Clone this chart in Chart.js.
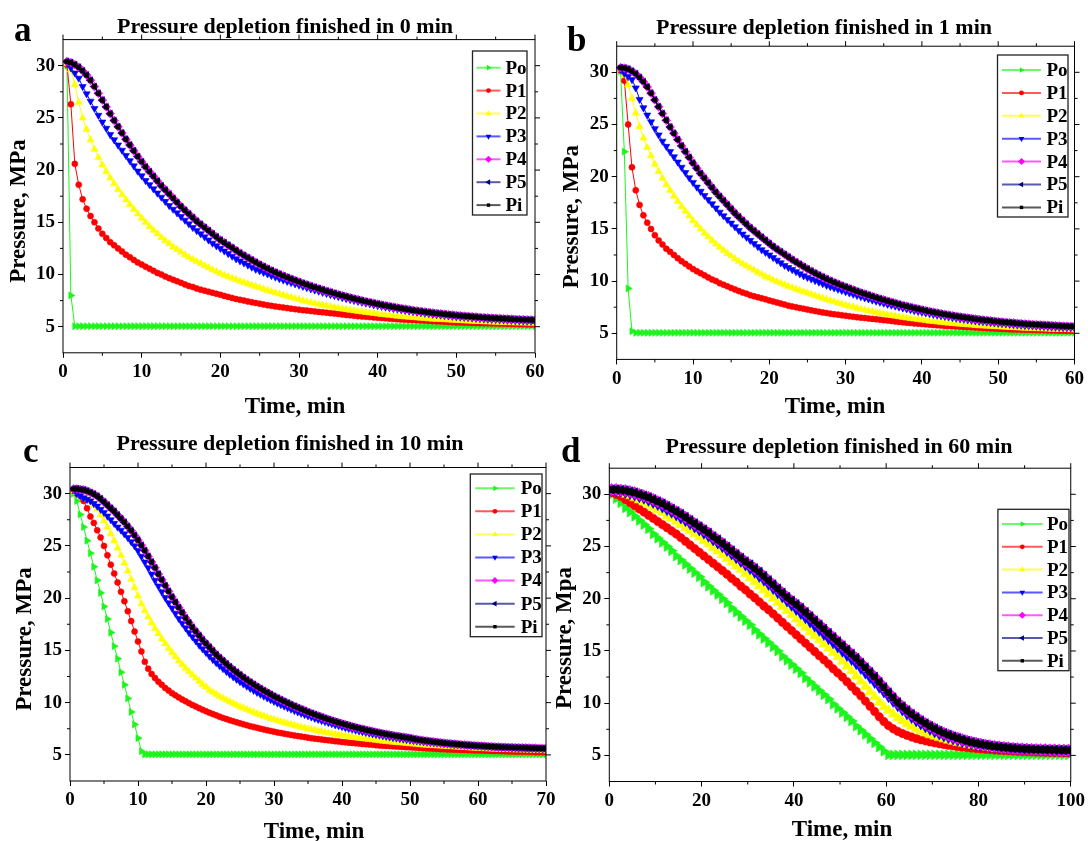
<!DOCTYPE html>
<html>
<head>
<meta charset="utf-8">
<script src="https://cdn.jsdelivr.net/npm/chart.js@4.4.0/dist/chart.umd.min.js"></script>
<style>
  html, body { margin: 0; padding: 0; background: #fff; }
  #wrap { position: relative; width: 1088px; height: 841px; overflow: hidden; }
  #wrap canvas { position: absolute; left: 0; top: 0; }
</style>
</head>
<body>
<div id="wrap">
  <canvas id="ca" width="1088" height="841"></canvas>
  <canvas id="cb" width="1088" height="841"></canvas>
  <canvas id="cc" width="1088" height="841"></canvas>
  <canvas id="cd" width="1088" height="841"></canvas>
</div>
<script>
// sampling times (min)
function halfSteps(n) { return Array.from({ length: n }, (_, i) => (i + 1) * 0.5); }
const timeA = halfSteps(120);   // 0.5 ... 60
const timeB = halfSteps(120);   // 0.5 ... 60
const timeC = halfSteps(140);   // 0.5 ... 70
const timeD = Array.from({ length: 100 }, (_, i) => i + 0.5); // 0.5 ... 99.5

const seriesNames = ["Po", "P1", "P2", "P3", "P4", "P5", "Pi"];

// ---- panel a : depletion finished in 0 min ----
const aPo = [30.0, 8.0, 5.05, 5.05, 5.05, 5.05, 5.05, 5.05, 5.05, 5.05,
  5.05, 5.05, 5.05, 5.05, 5.05, 5.05, 5.05, 5.05, 5.05, 5.05,
  5.05, 5.05, 5.05, 5.05, 5.05, 5.05, 5.05, 5.05, 5.05, 5.05,
  5.05, 5.05, 5.05, 5.05, 5.05, 5.05, 5.05, 5.05, 5.05, 5.05,
  5.05, 5.05, 5.05, 5.05, 5.05, 5.05, 5.05, 5.05, 5.05, 5.05,
  5.05, 5.05, 5.05, 5.05, 5.05, 5.05, 5.05, 5.05, 5.05, 5.05,
  5.05, 5.05, 5.05, 5.05, 5.05, 5.05, 5.05, 5.05, 5.05, 5.05,
  5.05, 5.05, 5.05, 5.05, 5.05, 5.05, 5.05, 5.05, 5.05, 5.05,
  5.05, 5.05, 5.05, 5.05, 5.05, 5.05, 5.05, 5.05, 5.05, 5.05,
  5.05, 5.05, 5.05, 5.05, 5.05, 5.05, 5.05, 5.05, 5.05, 5.05,
  5.05, 5.05, 5.05, 5.05, 5.05, 5.05, 5.05, 5.05, 5.05, 5.05,
  5.05, 5.05, 5.05, 5.05, 5.05, 5.05, 5.05, 5.05, 5.05, 5.05];
const aP1 = [30.1, 26.3, 20.6, 18.6, 17.2, 16.3, 15.6, 15.0, 14.4, 13.9,
  13.5, 13.1, 12.8, 12.5, 12.2, 11.9, 11.65, 11.4, 11.15, 10.95,
  10.75, 10.55, 10.35, 10.15, 10.0, 9.8, 9.65, 9.5, 9.35, 9.2,
  9.05, 8.9, 8.8, 8.65, 8.55, 8.45, 8.35, 8.25, 8.15, 8.05,
  7.95, 7.85, 7.75, 7.65, 7.57, 7.5, 7.42, 7.35, 7.27, 7.2,
  7.13, 7.06, 7.0, 6.94, 6.88, 6.83, 6.78, 6.73, 6.68, 6.63,
  6.58, 6.54, 6.5, 6.46, 6.42, 6.38, 6.34, 6.3, 6.26, 6.22,
  6.17, 6.13, 6.09, 6.05, 6.01, 5.98, 5.95, 5.92, 5.89, 5.86,
  5.83, 5.8, 5.77, 5.74, 5.71, 5.69, 5.67, 5.65, 5.63, 5.61,
  5.59, 5.57, 5.55, 5.53, 5.51, 5.49, 5.47, 5.45, 5.43, 5.41,
  5.4, 5.38, 5.37, 5.36, 5.35, 5.34, 5.33, 5.32, 5.31, 5.3,
  5.29, 5.28, 5.27, 5.26, 5.25, 5.24, 5.23, 5.22, 5.21, 5.2];
const aP2 = [30.2, 29.6, 28.2, 26.5, 25.0, 23.9, 22.9, 22.0, 21.2, 20.5,
  19.85, 19.25, 18.7, 18.15, 17.65, 17.15, 16.7, 16.25, 15.8, 15.4,
  15.0, 14.6, 14.25, 13.9, 13.55, 13.25, 12.95, 12.65, 12.4, 12.15,
  11.9, 11.65, 11.45, 11.25, 11.05, 10.85, 10.65, 10.45, 10.28, 10.1,
  9.95, 9.8, 9.65, 9.5, 9.36, 9.23, 9.1, 8.98, 8.86, 8.74,
  8.6, 8.48, 8.36, 8.24, 8.13, 8.02, 7.91, 7.8, 7.7, 7.6,
  7.5, 7.41, 7.32, 7.23, 7.15, 7.07, 6.99, 6.92, 6.85, 6.78,
  6.71, 6.65, 6.59, 6.53, 6.47, 6.42, 6.37, 6.32, 6.27, 6.22,
  6.17, 6.13, 6.09, 6.05, 6.01, 5.97, 5.94, 5.91, 5.88, 5.85,
  5.82, 5.79, 5.76, 5.73, 5.71, 5.69, 5.67, 5.65, 5.63, 5.61,
  5.59, 5.57, 5.55, 5.53, 5.51, 5.5, 5.48, 5.47, 5.45, 5.44,
  5.43, 5.41, 5.4, 5.39, 5.38, 5.37, 5.36, 5.35, 5.34, 5.33];
const aP3 = [30.3, 29.8, 29.3, 28.8, 28.0, 27.3, 26.6, 25.9, 25.25, 24.6,
  24.0, 23.4, 22.9, 22.4, 21.9, 21.4, 20.9, 20.4, 19.9, 19.45,
  19.0, 18.6, 18.2, 17.8, 17.4, 17.0, 16.6, 16.25, 15.9, 15.55,
  15.2, 14.85, 14.5, 14.2, 13.9, 13.6, 13.3, 13.0, 12.75, 12.5,
  12.25, 12.0, 11.75, 11.5, 11.3, 11.1, 10.9, 10.7, 10.5, 10.35,
  10.2, 10.05, 9.9, 9.75, 9.6, 9.47, 9.34, 9.22, 9.1, 8.98,
  8.86, 8.74, 8.62, 8.51, 8.4, 8.29, 8.18, 8.08, 7.98, 7.88,
  7.78, 7.69, 7.6, 7.51, 7.42, 7.34, 7.26, 7.18, 7.1, 7.02,
  6.95, 6.88, 6.81, 6.74, 6.68, 6.62, 6.56, 6.5, 6.44, 6.39,
  6.34, 6.29, 6.24, 6.19, 6.15, 6.11, 6.07, 6.03, 5.99, 5.95,
  5.92, 5.89, 5.86, 5.83, 5.8, 5.77, 5.74, 5.72, 5.7, 5.68,
  5.66, 5.64, 5.62, 5.6, 5.58, 5.56, 5.55, 5.53, 5.52, 5.5];
// P4, P5 and Pi lie on top of each other in the figure
const aP4P5Pi = [30.4, 30.3, 30.1, 29.85, 29.5, 29.1, 28.6, 28.0, 27.35, 26.7,
  26.05, 25.4, 24.75, 24.15, 23.55, 22.95, 22.4, 21.85, 21.3, 20.8,
  20.3, 19.85, 19.4, 18.95, 18.5, 18.1, 17.7, 17.3, 16.9, 16.5,
  16.15, 15.8, 15.45, 15.1, 14.8, 14.5, 14.2, 13.9, 13.6, 13.3,
  13.05, 12.8, 12.55, 12.3, 12.05, 11.82, 11.6, 11.38, 11.16, 10.95,
  10.75, 10.56, 10.38, 10.2, 10.03, 9.87, 9.72, 9.57, 9.43, 9.29,
  9.15, 9.02, 8.89, 8.77, 8.65, 8.53, 8.41, 8.3, 8.19, 8.08,
  7.98, 7.88, 7.78, 7.68, 7.59, 7.5, 7.41, 7.33, 7.25, 7.17,
  7.09, 7.02, 6.95, 6.88, 6.81, 6.75, 6.69, 6.63, 6.57, 6.52,
  6.47, 6.42, 6.37, 6.32, 6.28, 6.24, 6.2, 6.16, 6.12, 6.08,
  6.05, 6.02, 5.99, 5.96, 5.93, 5.9, 5.87, 5.85, 5.83, 5.81,
  5.79, 5.77, 5.75, 5.73, 5.71, 5.69, 5.68, 5.66, 5.65, 5.63];

// ---- panel b : depletion finished in 1 min ----
const bPo = [30.1, 22.4, 9.3, 5.2, 5.05, 5.05, 5.05, 5.05, 5.05, 5.05,
  5.05, 5.05, 5.05, 5.05, 5.05, 5.05, 5.05, 5.05, 5.05, 5.05,
  5.05, 5.05, 5.05, 5.05, 5.05, 5.05, 5.05, 5.05, 5.05, 5.05,
  5.05, 5.05, 5.05, 5.05, 5.05, 5.05, 5.05, 5.05, 5.05, 5.05,
  5.05, 5.05, 5.05, 5.05, 5.05, 5.05, 5.05, 5.05, 5.05, 5.05,
  5.05, 5.05, 5.05, 5.05, 5.05, 5.05, 5.05, 5.05, 5.05, 5.05,
  5.05, 5.05, 5.05, 5.05, 5.05, 5.05, 5.05, 5.05, 5.05, 5.05,
  5.05, 5.05, 5.05, 5.05, 5.05, 5.05, 5.05, 5.05, 5.05, 5.05,
  5.05, 5.05, 5.05, 5.05, 5.05, 5.05, 5.05, 5.05, 5.05, 5.05,
  5.05, 5.05, 5.05, 5.05, 5.05, 5.05, 5.05, 5.05, 5.05, 5.05,
  5.05, 5.05, 5.05, 5.05, 5.05, 5.05, 5.05, 5.05, 5.05, 5.05,
  5.05, 5.05, 5.05, 5.05, 5.05, 5.05, 5.05, 5.05, 5.05, 5.05];
const bP1 = [30.2, 29.2, 25.0, 20.9, 18.7, 17.3, 16.3, 15.6, 15.0, 14.4,
  13.9, 13.5, 13.1, 12.8, 12.5, 12.2, 11.9, 11.65, 11.4, 11.15,
  10.95, 10.75, 10.55, 10.35, 10.15, 10.0, 9.8, 9.65, 9.5, 9.35,
  9.2, 9.05, 8.9, 8.8, 8.65, 8.55, 8.45, 8.35, 8.25, 8.15,
  8.05, 7.95, 7.85, 7.75, 7.65, 7.57, 7.5, 7.42, 7.35, 7.27,
  7.2, 7.13, 7.06, 7.0, 6.94, 6.88, 6.83, 6.78, 6.73, 6.68,
  6.63, 6.58, 6.54, 6.5, 6.46, 6.42, 6.38, 6.34, 6.3, 6.26,
  6.22, 6.17, 6.13, 6.09, 6.05, 6.01, 5.98, 5.95, 5.92, 5.89,
  5.86, 5.83, 5.8, 5.77, 5.74, 5.71, 5.69, 5.67, 5.65, 5.63,
  5.61, 5.59, 5.57, 5.55, 5.53, 5.51, 5.49, 5.47, 5.45, 5.43,
  5.41, 5.4, 5.38, 5.37, 5.36, 5.35, 5.34, 5.33, 5.32, 5.31,
  5.3, 5.29, 5.28, 5.27, 5.26, 5.25, 5.24, 5.23, 5.22, 5.21];
const bP2 = [30.3, 29.7, 28.8, 27.5, 26.1, 24.8, 23.7, 22.8, 22.0, 21.2,
  20.5, 19.85, 19.25, 18.7, 18.15, 17.65, 17.15, 16.7, 16.25, 15.8,
  15.4, 15.0, 14.6, 14.25, 13.9, 13.55, 13.25, 12.95, 12.65, 12.4,
  12.15, 11.9, 11.65, 11.45, 11.25, 11.05, 10.85, 10.65, 10.45, 10.28,
  10.1, 9.95, 9.8, 9.65, 9.5, 9.36, 9.23, 9.1, 8.98, 8.86,
  8.74, 8.6, 8.48, 8.36, 8.24, 8.13, 8.02, 7.91, 7.8, 7.7,
  7.6, 7.5, 7.41, 7.32, 7.23, 7.15, 7.07, 6.99, 6.92, 6.85,
  6.78, 6.71, 6.65, 6.59, 6.53, 6.47, 6.42, 6.37, 6.32, 6.27,
  6.22, 6.17, 6.13, 6.09, 6.05, 6.01, 5.97, 5.94, 5.91, 5.88,
  5.85, 5.82, 5.79, 5.76, 5.73, 5.71, 5.69, 5.67, 5.65, 5.63,
  5.61, 5.59, 5.57, 5.55, 5.53, 5.51, 5.5, 5.48, 5.47, 5.45,
  5.44, 5.43, 5.41, 5.4, 5.39, 5.38, 5.37, 5.36, 5.35, 5.34];
const bP3 = [30.3, 29.9, 29.6, 29.3, 28.5, 27.4, 26.6, 25.9, 25.25, 24.6,
  24.0, 23.4, 22.9, 22.4, 21.9, 21.4, 20.9, 20.4, 19.9, 19.45,
  19.0, 18.6, 18.2, 17.8, 17.4, 17.0, 16.6, 16.25, 15.9, 15.55,
  15.2, 14.85, 14.5, 14.2, 13.9, 13.6, 13.3, 13.0, 12.75, 12.5,
  12.25, 12.0, 11.75, 11.5, 11.3, 11.1, 10.9, 10.7, 10.5, 10.35,
  10.2, 10.05, 9.9, 9.75, 9.6, 9.47, 9.34, 9.22, 9.1, 8.98,
  8.86, 8.74, 8.62, 8.51, 8.4, 8.29, 8.18, 8.08, 7.98, 7.88,
  7.78, 7.69, 7.6, 7.51, 7.42, 7.34, 7.26, 7.18, 7.1, 7.02,
  6.95, 6.88, 6.81, 6.74, 6.68, 6.62, 6.56, 6.5, 6.44, 6.39,
  6.34, 6.29, 6.24, 6.19, 6.15, 6.11, 6.07, 6.03, 5.99, 5.95,
  5.92, 5.89, 5.86, 5.83, 5.8, 5.77, 5.74, 5.72, 5.7, 5.68,
  5.66, 5.64, 5.62, 5.6, 5.58, 5.56, 5.55, 5.53, 5.52, 5.5];
const bP4P5Pi = [30.45, 30.4, 30.3, 30.1, 29.85, 29.5, 29.1, 28.6, 28.0, 27.35,
  26.7, 26.05, 25.4, 24.75, 24.15, 23.55, 22.95, 22.4, 21.85, 21.3,
  20.8, 20.3, 19.85, 19.4, 18.95, 18.5, 18.1, 17.7, 17.3, 16.9,
  16.5, 16.15, 15.8, 15.45, 15.1, 14.8, 14.5, 14.2, 13.9, 13.6,
  13.3, 13.05, 12.8, 12.55, 12.3, 12.05, 11.82, 11.6, 11.38, 11.16,
  10.95, 10.75, 10.56, 10.38, 10.2, 10.03, 9.87, 9.72, 9.57, 9.43,
  9.29, 9.15, 9.02, 8.89, 8.77, 8.65, 8.53, 8.41, 8.3, 8.19,
  8.08, 7.98, 7.88, 7.78, 7.68, 7.59, 7.5, 7.41, 7.33, 7.25,
  7.17, 7.09, 7.02, 6.95, 6.88, 6.81, 6.75, 6.69, 6.63, 6.57,
  6.52, 6.47, 6.42, 6.37, 6.32, 6.28, 6.24, 6.2, 6.16, 6.12,
  6.08, 6.05, 6.02, 5.99, 5.96, 5.93, 5.9, 5.87, 5.85, 5.83,
  5.81, 5.79, 5.77, 5.75, 5.73, 5.71, 5.69, 5.68, 5.66, 5.65];

// ---- panel c : depletion finished in 10 min ----
const cPo = [30.0, 29.3, 28.0, 26.8, 25.5, 24.3, 23.0, 21.7, 20.5, 19.2,
  18.0, 16.7, 15.4, 14.2, 12.9, 11.7, 10.4, 9.1, 7.9, 6.6,
  5.35, 5.05, 5.05, 5.05, 5.05, 5.05, 5.05, 5.05, 5.05, 5.05,
  5.05, 5.05, 5.05, 5.05, 5.05, 5.05, 5.05, 5.05, 5.05, 5.05,
  5.05, 5.05, 5.05, 5.05, 5.05, 5.05, 5.05, 5.05, 5.05, 5.05,
  5.05, 5.05, 5.05, 5.05, 5.05, 5.05, 5.05, 5.05, 5.05, 5.05,
  5.05, 5.05, 5.05, 5.05, 5.05, 5.05, 5.05, 5.05, 5.05, 5.05,
  5.05, 5.05, 5.05, 5.05, 5.05, 5.05, 5.05, 5.05, 5.05, 5.05,
  5.05, 5.05, 5.05, 5.05, 5.05, 5.05, 5.05, 5.05, 5.05, 5.05,
  5.05, 5.05, 5.05, 5.05, 5.05, 5.05, 5.05, 5.05, 5.05, 5.05,
  5.05, 5.05, 5.05, 5.05, 5.05, 5.05, 5.05, 5.05, 5.05, 5.05,
  5.05, 5.05, 5.05, 5.05, 5.05, 5.05, 5.05, 5.05, 5.05, 5.05,
  5.05, 5.05, 5.05, 5.05, 5.05, 5.05, 5.05, 5.05, 5.05, 5.05,
  5.05, 5.05, 5.05, 5.05, 5.05, 5.05, 5.05, 5.05, 5.05, 5.05];
const cP1 = [30.3, 30.0, 29.8, 29.3, 28.6, 27.8, 27.2, 26.5, 25.8, 25.0,
  24.1, 23.2, 22.35, 21.5, 20.6, 19.7, 18.75, 17.8, 16.8, 15.85,
  14.9, 13.9, 13.25, 12.75, 12.35, 12.0, 11.7, 11.4, 11.15, 10.9,
  10.7, 10.5, 10.3, 10.12, 9.95, 9.78, 9.62, 9.47, 9.32, 9.18,
  9.04, 8.91, 8.78, 8.66, 8.54, 8.43, 8.32, 8.22, 8.12, 8.02,
  7.93, 7.84, 7.75, 7.67, 7.59, 7.51, 7.43, 7.36, 7.29, 7.22,
  7.15, 7.09, 7.03, 6.97, 6.91, 6.85, 6.8, 6.75, 6.7, 6.65,
  6.6, 6.55, 6.51, 6.47, 6.43, 6.39, 6.35, 6.31, 6.27, 6.23,
  6.2, 6.17, 6.14, 6.11, 6.08, 6.05, 6.02, 5.99, 5.96, 5.93,
  5.9, 5.88, 5.86, 5.84, 5.82, 5.8, 5.78, 5.76, 5.74, 5.72,
  5.7, 5.68, 5.66, 5.64, 5.62, 5.6, 5.58, 5.56, 5.55, 5.54,
  5.52, 5.51, 5.5, 5.48, 5.47, 5.46, 5.45, 5.44, 5.43, 5.42,
  5.41, 5.4, 5.39, 5.38, 5.37, 5.36, 5.35, 5.34, 5.33, 5.32,
  5.31, 5.3, 5.29, 5.29, 5.28, 5.27, 5.26, 5.26, 5.25, 5.25];
const cP2 = [30.3, 30.1, 29.9, 29.7, 29.5, 29.25, 28.9, 28.5, 27.95, 27.4,
  26.8, 26.15, 25.5, 24.8, 24.1, 23.35, 22.6, 21.8, 21.0, 20.2,
  19.45, 18.8, 18.2, 17.65, 17.1, 16.6, 16.1, 15.65, 15.2, 14.8,
  14.4, 14.0, 13.65, 13.3, 12.95, 12.65, 12.35, 12.05, 11.75, 11.5,
  11.2, 11.0, 10.8, 10.6, 10.42, 10.25, 10.08, 9.92, 9.77, 9.62,
  9.48, 9.34, 9.2, 9.07, 8.94, 8.82, 8.7, 8.59, 8.48, 8.38,
  8.28, 8.18, 8.09, 8.0, 7.91, 7.82, 7.74, 7.66, 7.58, 7.5,
  7.43, 7.36, 7.29, 7.22, 7.15, 7.09, 7.03, 6.97, 6.91, 6.85,
  6.8, 6.75, 6.7, 6.65, 6.6, 6.56, 6.52, 6.48, 6.44, 6.4,
  6.36, 6.32, 6.28, 6.25, 6.22, 6.19, 6.16, 6.13, 6.1, 6.07,
  6.04, 6.01, 5.98, 5.95, 5.93, 5.91, 5.89, 5.87, 5.85, 5.83,
  5.81, 5.79, 5.77, 5.75, 5.73, 5.71, 5.69, 5.67, 5.65, 5.63,
  5.61, 5.6, 5.58, 5.57, 5.55, 5.54, 5.53, 5.52, 5.51, 5.5,
  5.49, 5.48, 5.47, 5.46, 5.45, 5.44, 5.43, 5.42, 5.41, 5.4];
const cP3 = [30.35, 30.0, 29.8, 29.6, 29.45, 29.3, 29.05, 28.8, 28.5, 28.2,
  27.85, 27.5, 27.15, 26.8, 26.5, 26.15, 25.8, 25.4, 25.0, 24.55,
  24.0, 23.45, 22.9, 22.3, 21.7, 21.15, 20.6, 20.05, 19.55, 19.05,
  18.55, 18.05, 17.6, 17.15, 16.7, 16.3, 15.9, 15.5, 15.15, 14.8,
  14.45, 14.12, 13.82, 13.53, 13.25, 12.98, 12.72, 12.47, 12.23, 12.0,
  11.78, 11.57, 11.37, 11.17, 10.98, 10.8, 10.62, 10.45, 10.28, 10.12,
  9.96, 9.81, 9.66, 9.52, 9.38, 9.24, 9.11, 8.98, 8.86, 8.74,
  8.62, 8.5, 8.39, 8.28, 8.18, 8.08, 7.98, 7.88, 7.79, 7.7,
  7.61, 7.53, 7.45, 7.37, 7.29, 7.22, 7.15, 7.08, 7.01, 6.95,
  6.89, 6.83, 6.77, 6.71, 6.66, 6.61, 6.56, 6.51, 6.46, 6.41,
  6.37, 6.33, 6.29, 6.25, 6.21, 6.18, 6.15, 6.12, 6.09, 6.06,
  6.03, 6.0, 5.97, 5.95, 5.93, 5.91, 5.89, 5.87, 5.85, 5.83,
  5.81, 5.79, 5.77, 5.75, 5.73, 5.71, 5.7, 5.68, 5.67, 5.65,
  5.64, 5.62, 5.61, 5.6, 5.59, 5.58, 5.57, 5.56, 5.55, 5.54];
const cP4P5Pi = [30.45, 30.45, 30.4, 30.35, 30.25, 30.1, 29.95, 29.75, 29.5, 29.2,
  28.9, 28.6, 28.3, 27.95, 27.6, 27.25, 26.85, 26.45, 26.0, 25.55,
  25.05, 24.55, 24.0, 23.45, 22.9, 22.3, 21.75, 21.2, 20.65, 20.1,
  19.6, 19.1, 18.6, 18.1, 17.65, 17.2, 16.8, 16.4, 16.0, 15.65,
  15.3, 14.95, 14.6, 14.3, 14.0, 13.7, 13.42, 13.15, 12.9, 12.65,
  12.4, 12.17, 11.95, 11.74, 11.53, 11.33, 11.14, 10.96, 10.78, 10.6,
  10.43, 10.27, 10.11, 9.95, 9.8, 9.65, 9.51, 9.37, 9.23, 9.1,
  8.97, 8.85, 8.73, 8.61, 8.5, 8.39, 8.28, 8.18, 8.08, 7.98,
  7.89, 7.8, 7.71, 7.62, 7.54, 7.46, 7.38, 7.31, 7.24, 7.17,
  7.1, 7.04, 6.98, 6.92, 6.86, 6.8, 6.75, 6.7, 6.65, 6.6,
  6.52, 6.47, 6.42, 6.37, 6.33, 6.29, 6.25, 6.21, 6.17, 6.13,
  6.1, 6.07, 6.04, 6.01, 5.98, 5.95, 5.93, 5.91, 5.89, 5.87,
  5.85, 5.83, 5.81, 5.79, 5.77, 5.76, 5.74, 5.73, 5.72, 5.71,
  5.7, 5.69, 5.68, 5.67, 5.66, 5.65, 5.64, 5.63, 5.62, 5.61];

// ---- panel d : depletion finished in 60 min ----
const dPo = [30.0, 29.6, 29.2, 28.7, 28.3, 27.9, 27.5, 27.1, 26.7, 26.2,
  25.8, 25.4, 25.0, 24.6, 24.1, 23.7, 23.3, 22.9, 22.5, 22.1,
  21.6, 21.2, 20.8, 20.4, 20.0, 19.6, 19.1, 18.7, 18.3, 17.9,
  17.5, 17.0, 16.6, 16.2, 15.8, 15.4, 15.0, 14.5, 14.1, 13.7,
  13.3, 12.9, 12.4, 12.0, 11.6, 11.2, 10.8, 10.4, 9.9, 9.5,
  9.1, 8.7, 8.3, 7.8, 7.4, 7.0, 6.6, 6.2, 5.8, 5.4,
  5.05, 5.05, 5.05, 5.05, 5.05, 5.05, 5.05, 5.05, 5.05, 5.05,
  5.05, 5.05, 5.05, 5.05, 5.05, 5.05, 5.05, 5.05, 5.05, 5.05,
  5.05, 5.05, 5.05, 5.05, 5.05, 5.05, 5.05, 5.05, 5.05, 5.05,
  5.05, 5.05, 5.05, 5.05, 5.05, 5.05, 5.05, 5.05, 5.05, 5.05];
const dP1 = [30.2, 30.0, 29.8, 29.5, 29.2, 28.9, 28.6, 28.3, 28.0, 27.7,
  27.4, 27.1, 26.8, 26.5, 26.2, 25.85, 25.5, 25.15, 24.8, 24.45,
  24.1, 23.75, 23.4, 23.05, 22.7, 22.35, 21.95, 21.6, 21.2, 20.85,
  20.45, 20.1, 19.7, 19.3, 18.95, 18.55, 18.15, 17.75, 17.35, 16.95,
  16.55, 16.15, 15.75, 15.35, 14.95, 14.55, 14.15, 13.75, 13.3, 12.9,
  12.5, 12.05, 11.6, 11.15, 10.7, 10.2, 9.7, 9.2, 8.7, 8.25,
  7.85, 7.55, 7.3, 7.1, 6.92, 6.76, 6.62, 6.5, 6.39, 6.29,
  6.2, 6.12, 6.04, 5.97, 5.91, 5.85, 5.8, 5.75, 5.7, 5.66,
  5.62, 5.58, 5.55, 5.52, 5.49, 5.46, 5.44, 5.42, 5.4, 5.38,
  5.36, 5.34, 5.33, 5.31, 5.3, 5.29, 5.28, 5.27, 5.26, 5.25];
const dP2 = [30.3, 30.25, 30.15, 30.0, 29.85, 29.65, 29.45, 29.25, 29.0, 28.75,
  28.5, 28.25, 27.95, 27.7, 27.4, 27.1, 26.8, 26.5, 26.2, 25.9,
  25.55, 25.25, 24.9, 24.55, 24.2, 23.85, 23.5, 23.15, 22.8, 22.4,
  22.0, 21.65, 21.25, 20.85, 20.45, 20.05, 19.65, 19.25, 18.85, 18.45,
  18.05, 17.65, 17.25, 16.85, 16.45, 16.05, 15.65, 15.25, 14.85, 14.45,
  14.0, 13.55, 13.1, 12.6, 12.1, 11.6, 11.1, 10.6, 10.1, 9.65,
  9.3, 8.95, 8.62, 8.31, 8.03, 7.77, 7.53, 7.32, 7.13, 6.96,
  6.83, 6.69, 6.56, 6.44, 6.33, 6.23, 6.14, 6.05, 5.97, 5.9,
  5.84, 5.78, 5.73, 5.68, 5.64, 5.6, 5.56, 5.53, 5.5, 5.47,
  5.45, 5.43, 5.41, 5.39, 5.37, 5.36, 5.35, 5.34, 5.33, 5.32];
const dP3 = [30.35, 30.3, 30.25, 30.15, 30.05, 29.9, 29.75, 29.6, 29.4, 29.2,
  29.0, 28.75, 28.5, 28.25, 28.0, 27.7, 27.45, 27.15, 26.85, 26.55,
  26.25, 25.95, 25.6, 25.3, 24.95, 24.6, 24.25, 23.9, 23.55, 23.2,
  22.85, 22.5, 22.1, 21.75, 21.35, 20.95, 20.55, 20.15, 19.75, 19.35,
  18.95, 18.55, 18.15, 17.75, 17.35, 16.95, 16.55, 16.15, 15.75, 15.35,
  14.95, 14.55, 14.15, 13.75, 13.3, 12.85, 12.4, 11.95, 11.5, 11.05,
  10.6, 10.15, 9.72, 9.32, 8.95, 8.6, 8.28, 7.98, 7.71, 7.46,
  7.23, 7.02, 6.84, 6.68, 6.54, 6.41, 6.29, 6.18, 6.08, 5.99,
  5.9, 5.84, 5.79, 5.74, 5.7, 5.66, 5.63, 5.6, 5.57, 5.55,
  5.53, 5.51, 5.49, 5.48, 5.47, 5.46, 5.45, 5.44, 5.43, 5.42];
const dP4P5Pi = [30.45, 30.45, 30.4, 30.35, 30.25, 30.15, 30.0, 29.85, 29.7, 29.5,
  29.3, 29.1, 28.85, 28.6, 28.35, 28.1, 27.8, 27.5, 27.2, 26.9,
  26.6, 26.3, 25.95, 25.65, 25.3, 24.95, 24.6, 24.25, 23.9, 23.55,
  23.25, 22.9, 22.55, 22.15, 21.75, 21.35, 20.95, 20.55, 20.15, 19.8,
  19.45, 19.1, 18.7, 18.3, 17.9, 17.5, 17.1, 16.7, 16.3, 15.9,
  15.5, 15.1, 14.7, 14.3, 13.85, 13.4, 12.95, 12.5, 12.0, 11.5,
  11.0, 10.52, 10.07, 9.67, 9.3, 8.95, 8.63, 8.33, 8.05, 7.79,
  7.55, 7.33, 7.13, 6.95, 6.79, 6.64, 6.5, 6.37, 6.26, 6.16,
  6.07, 5.99, 5.92, 5.86, 5.81, 5.76, 5.72, 5.68, 5.65, 5.62,
  5.6, 5.58, 5.56, 5.55, 5.54, 5.53, 5.52, 5.51, 5.5, 5.5];

const yTicks = [5, 10, 15, 20, 25, 30];

// ---- styling ----
const SERIF = "'Liberation Serif', 'Times New Roman', serif";
const looks = [
  { color: "#1cf51c", style: "triangle", rot: 90,  r: 4.1 },
  { color: "#ff0000", style: "circle",   rot: 0,   r: 3.0 },
  { color: "#ffff00", style: "triangle", rot: 0,   r: 4.1 },
  { color: "#0000ff", style: "triangle", rot: 180, r: 4.1 },
  { color: "#ff00ff", style: "rectRot",  rot: 0,   r: 4.4 },
  { color: "#000080", style: "triangle", rot: 270, r: 4.1 },
  { color: "#000000", style: "rect",     rot: 0,   r: 3.0 }
];

const panels = [
  { id: "ca", time: timeA, series: [aPo, aP1, aP2, aP3, aP4P5Pi, aP4P5Pi, aP4P5Pi],
    xMax: 60, xStep: 10, area: { l: 63, r: 535, t: 39.6, b: 352.8 }, markScale: 1,
    title: "Pressure depletion finished in 0 min", titleX: 285, titleY: 32.5,
    letter: "a", letterX: 14, letterY: 41,
    yTitle: "Pressure, MPa", yTitleX: 19, yTitleY: 211, xTitleX: 295, xTitleY: 413,
    legend: { x: 472.5, y: 51, w: 54.5, h: 164, first: 67.7, row: 22.9, l0: 476.5, l1: 500.5, tx: 505.5 } },
  { id: "cb", time: timeB, series: [bPo, bP1, bP2, bP3, bP4P5Pi, bP4P5Pi, bP4P5Pi],
    xMax: 60, xStep: 10, area: { l: 616.7, r: 1074.5, t: 46.2, b: 359.4 }, markScale: 1,
    title: "Pressure depletion finished in 1 min", titleX: 824, titleY: 33.5,
    letter: "b", letterX: 567, letterY: 51,
    yTitle: "Pressure, MPa", yTitleX: 572, yTitleY: 216.7, xTitleX: 835, xTitleY: 413,
    legend: { x: 997.5, y: 55, w: 70.5, h: 162, first: 70, row: 22.9, l0: 1002, l1: 1041, tx: 1046.5 } },
  { id: "cc", time: timeC, series: [cPo, cP1, cP2, cP3, cP4P5Pi, cP4P5Pi, cP4P5Pi],
    xMax: 70, xStep: 10, area: { l: 70, r: 546, t: 467.5, b: 781 }, markScale: 1,
    title: "Pressure depletion finished in 10 min", titleX: 290, titleY: 450,
    letter: "c", letterX: 23, letterY: 462,
    yTitle: "Pressure, MPa", yTitleX: 25, yTitleY: 639, xTitleX: 314, xTitleY: 838,
    legend: { x: 470.3, y: 474, w: 71.7, h: 162.7, first: 488.3, row: 23.07, l0: 475.2, l1: 514.7, tx: 520.7 } },
  { id: "cd", time: timeD, series: [dPo, dP1, dP2, dP3, dP4P5Pi, dP4P5Pi, dP4P5Pi],
    xMax: 100, xStep: 20, area: { l: 609.3, r: 1073.7, t: 468.2, b: 781.5 }, markScale: 1.4,
    title: "Pressure depletion finished in 60 min", titleX: 839, titleY: 452.5,
    letter: "d", letterX: 561, letterY: 462,
    yTitle: "Pressure, Mpa", yTitleX: 565, yTitleY: 638, xTitleX: 842, xTitleY: 836,
    legend: { x: 997.9, y: 509.3, w: 71.1, h: 161.4, first: 524, row: 22.8, l0: 1002, l1: 1042.6, tx: 1047 } }
];

function marker(ctx, look, x, y, r) {
  ctx.save();
  ctx.translate(x, y);
  ctx.rotate(look.rot * Math.PI / 180);
  ctx.fillStyle = look.color;
  ctx.beginPath();
  if (look.style === "circle") ctx.arc(0, 0, r, 0, 2 * Math.PI);
  else if (look.style === "triangle") { ctx.moveTo(0, -r); ctx.lineTo(r * 0.866, r * 0.5); ctx.lineTo(-r * 0.866, r * 0.5); ctx.closePath(); }
  else if (look.style === "rectRot") { ctx.moveTo(0, -r); ctx.lineTo(r, 0); ctx.lineTo(0, r); ctx.lineTo(-r, 0); ctx.closePath(); }
  else { const s = r * 0.7071; ctx.rect(-s, -s, 2 * s, 2 * s); }
  ctx.fill();
  ctx.restore();
}

const decorations = {
  id: "decorations",
  afterDraw(chart, args, p) {
    const ctx = chart.ctx, a = chart.chartArea;
    const xs = chart.scales.x, ys = chart.scales.y;
    ctx.save();
    ctx.strokeStyle = "#000";
    ctx.lineWidth = 1;
    ctx.strokeRect(a.left, a.top, a.right - a.left, a.bottom - a.top);

    // ticks not drawn by the library: top / right, and minor ones
    ctx.beginPath();
    for (let v = 0; v <= p.xMax + 1e-6; v += p.xStep / 2) {
      const px = xs.getPixelForValue(v);
      const major = Math.round(v / (p.xStep / 2)) % 2 === 0;
      const len = major ? 5 : 3;
      ctx.moveTo(px, a.top); ctx.lineTo(px, a.top - len);
      if (!major) { ctx.moveTo(px, a.bottom); ctx.lineTo(px, a.bottom + len); }
    }
    for (let v = 5; v <= 30 + 1e-6; v += 2.5) {
      const py = ys.getPixelForValue(v);
      const major = Math.round(v / 2.5) % 2 === 0;
      const len = major ? 5 : 3;
      ctx.moveTo(a.right, py); ctx.lineTo(a.right + len, py);
      if (!major) { ctx.moveTo(a.left, py); ctx.lineTo(a.left - len, py); }
    }
    ctx.stroke();

    ctx.fillStyle = "#000";
    ctx.textAlign = "center";
    ctx.textBaseline = "alphabetic";
    ctx.font = "bold 22px " + SERIF;
    ctx.fillText(p.title, p.titleX, p.titleY);
    ctx.font = "bold 23px " + SERIF;
    ctx.fillText(p.xTitle, p.xTitleX, p.xTitleY);
    ctx.save();
    ctx.translate(p.yTitleX, p.yTitleY);
    ctx.rotate(-Math.PI / 2);
    ctx.textBaseline = "middle";
    ctx.fillText(p.yTitle, 0, 0);
    ctx.restore();

    ctx.textAlign = "left";
    ctx.font = "bold 35px " + SERIF;
    ctx.fillText(p.letter, p.letterX, p.letterY);

    // legend box
    const L = p.legend;
    ctx.lineWidth = 1.3;
    ctx.strokeStyle = "#222";
    ctx.strokeRect(L.x, L.y, L.w, L.h);
    ctx.font = "bold 19px " + SERIF;
    ctx.textBaseline = "middle";
    seriesNames.forEach((name, i) => {
      const look = looks[i];
      const cy = L.first + i * L.row;
      ctx.save();
      ctx.globalAlpha = 0.65;
      ctx.strokeStyle = look.color;
      ctx.lineWidth = 2;
      ctx.beginPath(); ctx.moveTo(L.l0, cy); ctx.lineTo(L.l1, cy); ctx.stroke();
      ctx.restore();
      marker(ctx, look, (L.l0 + L.l1) / 2, cy, look.r * 0.8);
      ctx.fillStyle = "#000";
      ctx.fillText(name, L.tx, cy + 1);
    });
    ctx.restore();
  }
};

panels.forEach(p => {
  p.xTitle = "Time, min";
  const datasets = p.series.map((vals, i) => ({
    label: seriesNames[i],
    data: p.time.map((t, k) => ({ x: t, y: vals[k] })),
    borderColor: looks[i].color,
    backgroundColor: looks[i].color,
    borderWidth: 1,
    pointStyle: looks[i].style,
    pointRotation: looks[i].rot,
    pointRadius: looks[i].r * p.markScale,
    pointBorderWidth: 0.6,
    pointBackgroundColor: looks[i].color,
    pointBorderColor: looks[i].color,
    fill: false,
    tension: 0,
    order: 6 - i
  }));

  new Chart(document.getElementById(p.id), {
    type: "line",
    data: { datasets: datasets },
    options: {
      responsive: false,
      animation: false,
      devicePixelRatio: 1,
      events: [],
      layout: {
        padding: { left: p.area.l - 50, right: 1088 - p.area.r, top: p.area.t, bottom: 841 - p.area.b - 40 }
      },
      plugins: {
        legend: { display: false },
        tooltip: { enabled: false },
        decorations: p
      },
      scales: {
        x: {
          type: "linear", min: 0, max: p.xMax,
          afterFit: s => { s.height = 40; },
          border: { display: false },
          grid: { display: true, drawOnChartArea: false, drawTicks: true, tickLength: 5, color: "#000" },
          ticks: { stepSize: p.xStep, padding: 3, color: "#000", maxRotation: 0,
                   font: { family: SERIF, size: 19, weight: "bold" } }
        },
        y: {
          type: "linear", min: 2.5, max: 32.5,
          afterFit: s => { s.width = 50; },
          afterBuildTicks: s => { s.ticks = yTicks.map(v => ({ value: v })); },
          border: { display: false },
          grid: { display: true, drawOnChartArea: false, drawTicks: true, tickLength: 5, color: "#000" },
          ticks: { padding: 3, color: "#000",
                   font: { family: SERIF, size: 19, weight: "bold" } }
        }
      }
    },
    plugins: [decorations]
  });
});
</script>
</body>
</html>
